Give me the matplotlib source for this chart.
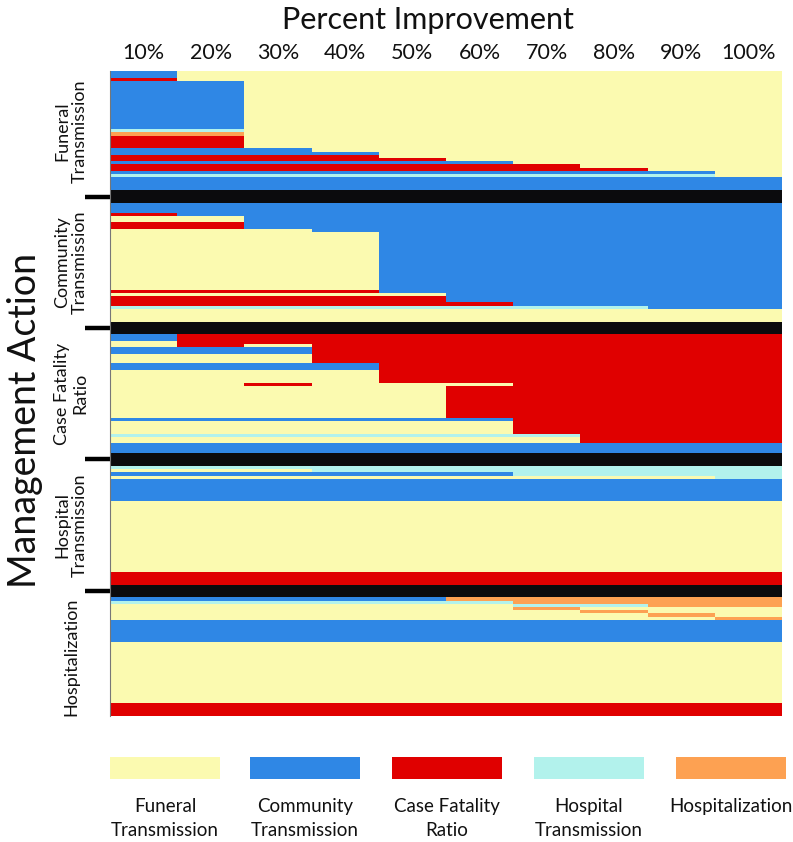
import numpy as np
import matplotlib
matplotlib.use("Agg")
import matplotlib.pyplot as plt
from matplotlib.colors import ListedColormap
from matplotlib.patches import Rectangle
import matplotlib.transforms as mtransforms

plt.rcParams['font.family'] = ['Lato', 'DejaVu Sans']

# ---------------- data ----------------
categories = ["Funeral\nTransmission", "Community\nTransmission", "Case Fatality\nRatio",
              "Hospital\nTransmission", "Hospitalization"]
codes = "FCRHP"   # F=Funeral, C=Community, R=Case Fatality Ratio, H=Hospital, P=Hospitalization
percent_labels = ["10%", "20%", "30%", "40%", "50%", "60%", "70%", "80%", "90%", "100%"]
colors = ["#FBFAB0", "#2F87E5", "#E00000", "#B2F2EC", "#FDA152"]
separator_color = "#0B0B0D"

funeral_rows = ["CFFFFFFFFF", "RFFFFFFFFF", "CCFFFFFFFF", "HHFFFFFFFF", "PPFFFFFFFF",
                "RRFFFFFFFF", "CCCFFFFFFF", "CCCCFFFFFF", "RRRRFFFFFF", "RRRRRFFFFF",
                "CCCCCCFFFF", "RRRRRRRFFF", "RRRRRRRRFF", "CCCCCCCCCF", "HHHHHHHHHF",
                "CCCCCCCCCC"]
funeral_counts = [2, 1, 15, 1, 1, 4, 1, 1, 1, 1, 1, 1, 1, 1, 1, 4]

community_rows = ["CCCCCCCCCC", "RCCCCCCCCC", "FFCCCCCCCC", "RRCCCCCCCC", "FFFCCCCCCC",
                  "FFFFCCCCCC", "RRRRCCCCCC", "FFFFFCCCCC", "RRRRRCCCCC", "RRRRRRCCCC",
                  "HHHHHHHHCC", "FFFFFFFFFF"]
community_counts = [3, 1, 2, 2, 1, 18, 1, 1, 2, 1, 1, 4]

cfr_rows = ["CRRRRRRRRR", "FRRRRRRRRR", "FRFRRRRRRR", "CCCRRRRRRR", "FFFRRRRRRR",
            "CCCCRRRRRR", "FFFFRRRRRR", "FFRFFFRRRR", "FFFFFRRRRR", "CCCCCCRRRR",
            "FFFFFFRRRR", "HHHHHHHRRR", "FFFFFFFRRR", "CCCCCCCCCC"]
cfr_counts = [2, 1, 1, 2, 3, 2, 4, 1, 10, 1, 4, 1, 2, 3]

hospital_rows = ["HHHHHHHHHH", "FFFHHHHHHH", "CCCCCCHHHH", "FFFFFFFFFH",
                 "CCCCCCCCCC", "FFFFFFFFFF", "RRRRRRRRRR"]
hospital_counts = [1, 1, 1, 1, 7, 22, 4]

hospitalization_rows = ["CCCCCPPPPP", "HHHHHHPPPP", "FFFFFFHHPP", "FFFFFFPFFF",
                        "FFFFFFFPFF", "FFFFFFFFPF", "FFFFFFFFFP", "CCCCCCCCCC",
                        "FFFFFFFFFF", "RRRRRRRRRR"]
hospitalization_counts = [1, 1, 1, 1, 1, 1, 1, 7, 19, 4]

separator_count = 4

sections = [(funeral_rows, funeral_counts), (community_rows, community_counts),
            (cfr_rows, cfr_counts), (hospital_rows, hospital_counts),
            (hospitalization_rows, hospitalization_counts)]

# ---------------- build matrix ----------------
rows = []
section_bounds = []
sep_centers = []
for si, (pats, counts) in enumerate(sections):
    start = len(rows)
    for p, c in zip(pats, counts):
        for _ in range(c):
            rows.append([codes.index(ch) for ch in p])
    section_bounds.append((start, len(rows)))
    if si < len(sections) - 1:
        s0 = len(rows)
        for _ in range(separator_count):
            rows.append([5] * len(percent_labels))
        sep_centers.append((s0 + len(rows)) / 2)
M = np.array(rows)
nrows, ncols = M.shape

# ---------------- figure ----------------
W, H = 793, 842
fig = plt.figure(figsize=(W / 100, H / 100), dpi=100)
left, right, top, bottom = 110, 782, 71.5, 716
ax = fig.add_axes([left / W, 1 - bottom / H, (right - left) / W, (bottom - top) / H])

cmap = ListedColormap(colors + [separator_color])
ax.pcolormesh(np.arange(ncols + 1), np.arange(nrows + 1), M, cmap=cmap,
              vmin=-0.5, vmax=5.5, shading='flat')
ax.set_xlim(0, ncols)
ax.set_ylim(nrows, 0)

ax.xaxis.tick_top()
ax.set_xticks(np.arange(ncols) + 0.5)
ax.set_xticklabels(percent_labels, fontsize=15.5, color="#111111")
ax.tick_params(axis='x', length=0, pad=6)
ax.set_yticks([])
for s in ["top", "right", "bottom"]:
    ax.spines[s].set_visible(False)
ax.spines["left"].set_color("#777777")
ax.spines["left"].set_linewidth(0.8)

trans = mtransforms.blended_transform_factory(ax.transAxes, ax.transData)
for yc in sep_centers:
    ax.plot([-0.037, 0.0], [yc, yc], transform=trans, clip_on=False,
            color="black", lw=3.2, solid_capstyle='butt')

for (s0, s1), name in zip(section_bounds, categories):
    ax.text(-0.058, (s0 + s1) / 2, name, transform=trans, rotation=90,
            ha='center', va='center', fontsize=13, linespacing=1.15, color="#111111")

fig.text(25 / W, 1 - 420 / H, "Management Action", rotation=90, ha='center',
         va='center', fontsize=27, color="#111111")
fig.text(428 / W, 1 - 20 / H, "Percent Improvement", ha='center', va='center',
         fontsize=22, color="#111111")

# ---------------- legend ----------------
lax = fig.add_axes([0, 0, 1, 1], facecolor='none')
lax.set_xlim(0, W)
lax.set_ylim(H, 0)
lax.axis('off')
leg_x = [110, 250, 392, 534, 676]
for x0, col, name in zip(leg_x, colors, categories):
    lax.add_patch(Rectangle((x0, 757), 110, 22, facecolor=col, edgecolor='none'))
    lax.text(x0 + 55, 798, name, ha='center', va='top', fontsize=13.5,
             linespacing=1.5, color="#111111")

fig.savefig("out.png", dpi=100)
